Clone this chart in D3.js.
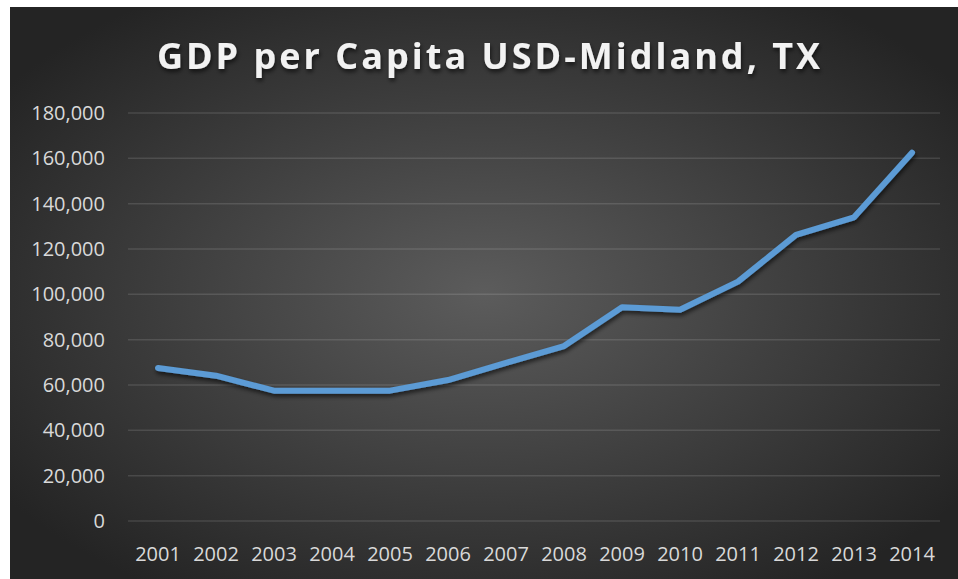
<!DOCTYPE html>
<html>
<head>
<meta charset="utf-8">
<script src="https://cdn.jsdelivr.net/npm/d3@7"></script>
<style>
  html, body { margin: 0; padding: 0; background: #fff; }
  svg { display: block; }
</style>
</head>
<body>
<svg width="958" height="579"></svg>
<script>
const years = ["2001","2002","2003","2004","2005","2006","2007","2008","2009","2010","2011","2012","2013","2014"];
const gdpValues = [67500, 64100, 57500, 57500, 57500, 62200, 69800, 77200, 94300, 93200, 105600, 126200, 134000, 162500];
const yTicks = [0, 20000, 40000, 60000, 80000, 100000, 120000, 140000, 160000, 180000];
const title = "GDP per Capita USD-Midland, TX";

const svg = d3.select("svg");
const width = +svg.attr("width");
const height = +svg.attr("height");

const defs = svg.append("defs");
const grad = defs.append("radialGradient")
    .attr("id", "bg")
    .attr("cx", "50%").attr("cy", "50%").attr("r", "62%");
grad.append("stop").attr("offset", "0%").attr("stop-color", "#5c5c5c");
grad.append("stop").attr("offset", "100%").attr("stop-color", "#242424");

const shadow = defs.append("filter").attr("id", "shadow")
    .attr("x", "-10%").attr("y", "-10%").attr("width", "120%").attr("height", "130%");
shadow.append("feDropShadow")
    .attr("dx", 1).attr("dy", 3).attr("stdDeviation", 2)
    .attr("flood-color", "#000").attr("flood-opacity", 0.6);

// chart area background (white edge at top/left like the source)
svg.append("rect")
    .attr("x", 10).attr("y", 7)
    .attr("width", width - 10).attr("height", height - 7)
    .attr("fill", "url(#bg)");

const x = d3.scalePoint()
    .domain(years)
    .range([158, 912]);

const y = d3.scaleLinear()
    .domain([0, 180000])
    .range([521, 113]);

// gridlines
svg.append("g")
    .selectAll("line")
    .data(yTicks)
    .enter()
    .append("line")
    .attr("x1", 128).attr("x2", 940)
    .attr("y1", d => y(d)).attr("y2", d => y(d))
    .attr("stroke", "#ffffff")
    .attr("stroke-opacity", 0.12)
    .attr("stroke-width", 1.5);

// y axis labels
svg.append("g")
    .selectAll("text")
    .data(yTicks)
    .enter()
    .append("text")
    .attr("x", 105)
    .attr("y", d => y(d))
    .attr("dy", "0.35em")
    .attr("text-anchor", "end")
    .attr("font-family", "'Open Sans', sans-serif")
    .attr("font-size", 20)
    .attr("fill", "#d9d9d9")
    .text(d => d3.format(",")(d));

// x axis labels
svg.append("g")
    .selectAll("text")
    .data(years)
    .enter()
    .append("text")
    .attr("x", d => x(d))
    .attr("y", 561)
    .attr("text-anchor", "middle")
    .attr("font-family", "'Open Sans', sans-serif")
    .attr("font-size", 20)
    .attr("fill", "#d9d9d9")
    .text(d => d);

// title
svg.append("text")
    .attr("x", 490)
    .attr("y", 69)
    .attr("text-anchor", "middle")
    .attr("font-family", "'Open Sans', sans-serif")
    .attr("font-weight", 700)
    .attr("font-size", 36)
    .attr("letter-spacing", 3)
    .attr("fill", "#f2f2f2")
    .attr("filter", "url(#shadow)")
    .text(title);

// line
const line = d3.line()
    .x((d, i) => x(years[i]))
    .y(d => y(d));

svg.append("path")
    .datum(gdpValues)
    .attr("d", line)
    .attr("fill", "none")
    .attr("stroke", "#5b9bd5")
    .attr("stroke-width", 6)
    .attr("stroke-linecap", "round")
    .attr("stroke-linejoin", "round")
    .attr("filter", "url(#shadow)");
</script>
</body>
</html>
